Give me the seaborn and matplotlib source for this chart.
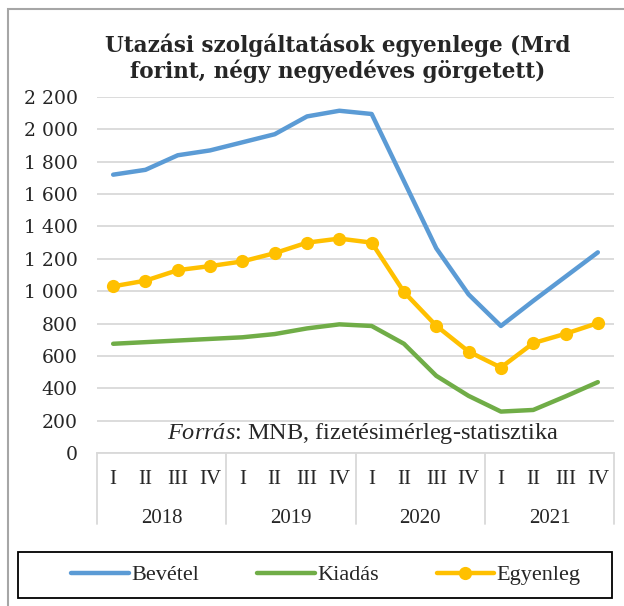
import numpy as np
import pandas as pd
import matplotlib.pyplot as plt
import seaborn as sns
from matplotlib.ticker import FuncFormatter
from matplotlib.patches import Rectangle
import matplotlib.transforms as mtransforms

years = ["2018", "2019", "2020", "2021"]
quarters = ["I", "II", "III", "IV"]
bevetel = [1720, 1750, 1840, 1870, 1920, 1970, 2080, 2115,
           2095, 1680, 1265, 980, 785, 940, 1090, 1240]
kiadas = [675, 685, 695, 705, 715, 735, 770, 795,
          785, 675, 477, 353, 256, 266, 350, 438]
egyenleg = [1030, 1065, 1130, 1155, 1184, 1235, 1300, 1325,
            1300, 995, 786, 627, 528, 679, 737, 803]

idx = np.arange(len(bevetel))
df = pd.DataFrame({"t": idx, "Bevétel": bevetel, "Kiadás": kiadas, "Egyenleg": egyenleg})

sns.set_style("white")
serif_wide = "DejaVu Serif"
serif = "Liberation Serif"
plt.rcParams["mathtext.fontset"] = "custom"
plt.rcParams["mathtext.it"] = "Liberation Serif:italic"
plt.rcParams["mathtext.rm"] = "Liberation Serif"

fig = plt.figure(figsize=(6.24, 6.06), dpi=100)
ax = fig.add_axes([97 / 624, 1 - 453 / 606, (614 - 97) / 624, (453 - 97) / 606])

sns.lineplot(data=df, x="t", y="Bevétel", ax=ax, color="#5B9BD5", lw=3.2, label="Bevétel")
sns.lineplot(data=df, x="t", y="Kiadás", ax=ax, color="#70AD47", lw=3.2, label="Kiadás")
sns.lineplot(data=df, x="t", y="Egyenleg", ax=ax, color="#FFC000", lw=3.2, marker="o",
             markersize=9.5, markeredgewidth=0, label="Egyenleg")

ax.set_xlim(-0.5, len(idx) - 0.5)
ax.set_ylim(0, 2200)
ax.set_yticks(range(0, 2201, 200))
ax.yaxis.set_major_formatter(FuncFormatter(lambda v, p: f"{int(v):,}".replace(",", " ")))
ax.grid(axis="y", color="#d9d9d9", lw=1.3)
ax.set_axisbelow(True)
for s in ["left", "right", "top"]:
    ax.spines[s].set_visible(False)
ax.spines["bottom"].set_color("#d9d9d9")
ax.spines["bottom"].set_linewidth(1.3)
ax.tick_params(axis="y", length=0, pad=14, labelsize=13.5)
for lab in ax.get_yticklabels():
    lab.set_fontfamily(serif_wide)
ax.set_xlabel("")
ax.set_ylabel("")
ax.set_xticks(idx)
ax.set_xticklabels(quarters * len(years), fontfamily=serif, fontsize=15)
ax.tick_params(axis="x", length=0, pad=12)

# year row and category separators
trans = mtransforms.blended_transform_factory(ax.transData, ax.transAxes)
for i, y in enumerate(years):
    ax.text(i * 4 + 1.5, -0.185, y, transform=trans, ha="center", va="center",
            fontfamily=serif, fontsize=15)
for k in range(len(years) + 1):
    ax.plot([k * 4 - 0.5] * 2, [0, -0.2], transform=trans, color="#d9d9d9",
            lw=1.3, clip_on=False)

ax.text(0.515, 0.055, r"$\it{Forrás}$: MNB, fizetésimérleg-statisztika", transform=ax.transAxes,
        ha="center", va="center", fontfamily=serif, fontsize=17.5)

fig.text(338 / 624, 1 - 58 / 606, "Utazási szolgáltatások egyenlege (Mrd\nforint, négy negyedéves görgetett)",
         ha="center", va="center", fontfamily=serif_wide, fontweight="bold", fontsize=15.5,
         linespacing=1.15)

ax.get_legend().remove()
h, l = ax.get_legend_handles_labels()
leg = fig.legend(h, l, loc="center", ncol=3, bbox_to_anchor=(326 / 624, 1 - 575 / 606),
                 frameon=False, handlelength=2.6, handletextpad=0.1, columnspacing=2.6,
                 prop={"family": serif, "size": 16})

fig.patches.append(Rectangle((18 / 624, 1 - 598 / 606), 594 / 624, 46 / 606,
                             transform=fig.transFigure, fill=False, edgecolor="black", lw=1.3))
fig.patches.append(Rectangle((8 / 624, -0.01), 1.0, 1 - 9 / 606 + 0.01, transform=fig.transFigure,
                             fill=False, edgecolor="#a6a6a6", lw=1.5))

fig.savefig("out.png", dpi=100)
